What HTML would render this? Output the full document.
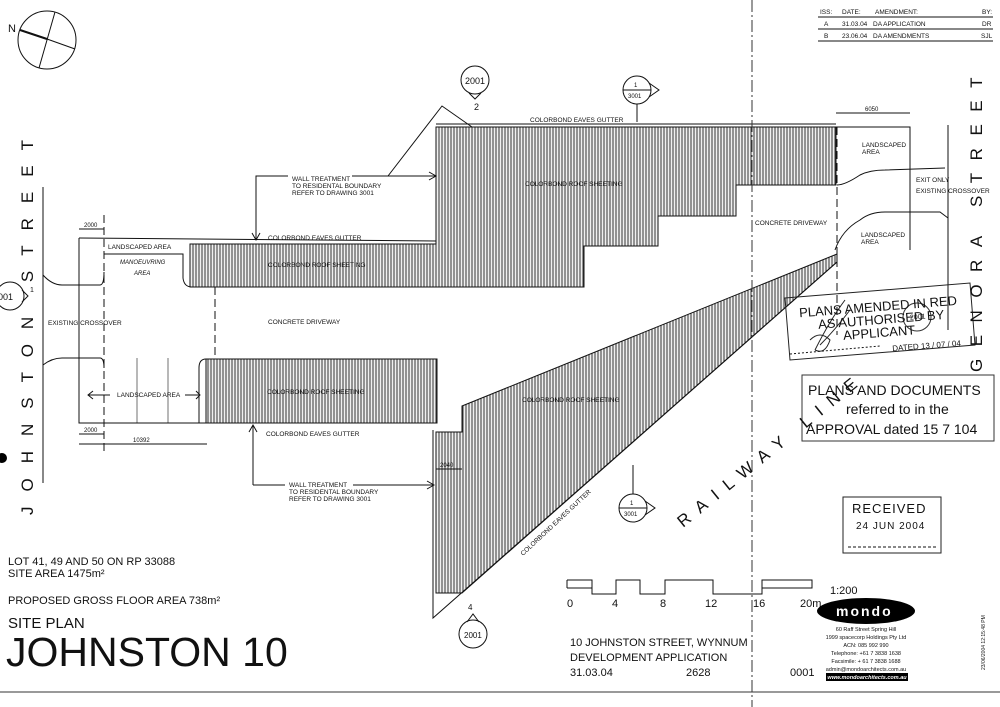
<!DOCTYPE html>
<html><head><meta charset="utf-8"><style>
html,body{margin:0;padding:0;background:#fff}
svg{display:block}
text{font-family:"Liberation Sans",Arial,sans-serif;fill:#111}
.s{font-size:6.5px}
</style></head><body>
<svg width="1000" height="707" viewBox="0 0 1000 707" xmlns="http://www.w3.org/2000/svg">
<defs>
<pattern id="h" width="3" height="10" patternUnits="userSpaceOnUse">
<rect width="3" height="10" fill="#f0f0f0"/>
<line x1="1" y1="0" x2="1" y2="10" stroke="#333" stroke-width="1"/>
</pattern>
</defs>
<rect width="1000" height="707" fill="#fff"/>
<g stroke="#111" fill="none" stroke-width="1">
<circle cx="47" cy="40" r="29"/>
<line x1="20" y1="30" x2="47" y2="39" stroke-width="2"/>
<line x1="47" y1="39" x2="75" y2="49"/>
<line x1="55" y1="12" x2="39" y2="68"/>
<polygon points="436,127 836,127 836,185 736,185 736,216 658,216 658,246 584,246 584,287 190,287 190,244 436,244" fill="url(#h)"/>
<rect x="206" y="359" width="231" height="64" fill="url(#h)"/>
<polygon points="436,432 462,432 462,406 837,254 837,262 462,593 436,593" fill="url(#h)"/>
<polyline points="433,430 433,618 837,262"/>
<line x1="436" y1="124" x2="836" y2="124"/>
<line x1="43" y1="187" x2="43" y2="483"/>
<path d="M43,275 Q52,285 62,285 L100,285 Q104,285 104,272"/>
<path d="M43,365 Q52,358 62,358 L100,358 Q104,358 104,368"/>
<polyline points="79,238 79,423 437,423"/>
<line x1="79" y1="238" x2="436" y2="241"/>
<path d="M104,254 L183,254 L183,278 Q184,287 192,287"/>
<path d="M206,359 Q199,359 199,368 L199,423"/>
<line x1="104" y1="215" x2="104" y2="455" stroke-dasharray="8,4"/>
<line x1="215" y1="287" x2="215" y2="359" stroke-dasharray="8,4"/>
<line x1="137" y1="358" x2="137" y2="423" stroke-width="0.6"/>
<line x1="168" y1="358" x2="168" y2="423" stroke-width="0.6"/>
<line x1="79" y1="229" x2="104" y2="229"/>
<line x1="79" y1="434" x2="104" y2="434"/>
<line x1="79" y1="444" x2="207" y2="444"/>
<line x1="88" y1="395" x2="110" y2="395"/><polyline points="93,391 88,395 93,399"/>
<line x1="185" y1="395" x2="200" y2="395"/><polyline points="196,391 200,395 196,399"/>
<polyline points="288,176 256,176 256,240"/><polyline points="252,233 256,240 260,233"/>
<line x1="352" y1="176" x2="436" y2="176"/><polyline points="429,172 436,176 429,180"/>
<polyline points="388,176 442,106 472,127"/>
<polyline points="253,485 253,425"/><polyline points="249,432 253,425 257,432"/>
<line x1="253" y1="485" x2="285" y2="485"/>
<line x1="353" y1="485" x2="434" y2="485"/><polyline points="427,481 434,485 427,489"/>
<circle cx="475" cy="80" r="14"/><polyline points="469,93 475,99 481,93"/>
<circle cx="637" cy="90" r="14"/><line x1="623" y1="90" x2="651" y2="90"/><polyline points="649,83 659,90 649,97"/>
<line x1="637" y1="104" x2="637" y2="122"/>
<circle cx="633" cy="508" r="14"/><line x1="619" y1="508" x2="647" y2="508"/><polyline points="645,501 655,508 645,515"/>
<line x1="633" y1="465" x2="633" y2="494"/>
<circle cx="473" cy="634" r="14"/><polyline points="467,622 473,614 479,622"/>
<circle cx="10" cy="296" r="14"/><polyline points="22,290 28,296 22,302"/>
<line x1="436" y1="469" x2="462" y2="469"/>
<line x1="752" y1="0" x2="752" y2="707" stroke-dasharray="12,3,2,3" stroke="#333"/>
<line x1="837" y1="127" x2="837" y2="335" stroke-dasharray="8,4"/>
<polyline points="836,127 910,127 910,250"/>
<line x1="836" y1="113" x2="910" y2="113"/>
<line x1="948" y1="125" x2="948" y2="330"/>
<path d="M837,185 Q845,185 860,175 Q870,170 885,170 L945,168"/>
<path d="M835,250 Q842,230 860,220 Q870,212 885,212 L940,212 L948,218"/>
<line x1="818" y1="17" x2="993" y2="17"/><line x1="818" y1="29" x2="993" y2="29"/><line x1="818" y1="41" x2="993" y2="41"/>
<polyline points="567,580 592,580 592,594 616,594 616,580 640,580 640,594 665,594 665,580 713,580 713,594 762,594 762,580 812,580 812,588 762,588"/>
<line x1="567" y1="580" x2="567" y2="588"/><line x1="567" y1="588" x2="592" y2="588"/>
<polygon points="785,298 970,283 975,345 790,360" stroke="#222"/>
<line x1="790" y1="354" x2="880" y2="346" stroke-dasharray="2,2"/>
<circle cx="917" cy="317" r="14" stroke="#333"/>
<rect x="802" y="375" width="192" height="66" stroke="#333"/>
<rect x="843" y="497" width="98" height="56" stroke="#222"/>
<line x1="848" y1="547" x2="936" y2="547" stroke-dasharray="3,2"/>
<line x1="0" y1="692" x2="1000" y2="692" stroke="#333"/>
</g>
<path d="M815,350 Q830,320 845,300 M820,345 Q835,330 850,310 M810,340 q10,-10 20,0 q-5,15 -15,10" stroke="#222" fill="none"/>

<text x="8" y="32" font-size="11">N</text>
<text class="s" x="530" y="122">COLORBOND EAVES GUTTER</text>
<text class="s" x="525" y="186">COLORBOND ROOF SHEETING</text>
<text class="s" x="755" y="225">CONCRETE DRIVEWAY</text>
<text class="s" x="268" y="240">COLORBOND EAVES GUTTER</text>
<text class="s" x="268" y="267">COLORBOND ROOF SHEETING</text>
<text class="s" x="108" y="249">LANDSCAPED AREA</text>
<text x="120" y="264" font-size="6" font-style="italic">MANOEUVRING</text>
<text x="134" y="275" font-size="6" font-style="italic">AREA</text>
<text class="s" x="48" y="325">EXISTING CROSSOVER</text>
<text class="s" x="268" y="324">CONCRETE DRIVEWAY</text>
<text class="s" x="267" y="394">COLORBOND ROOF SHEETING</text>
<text class="s" x="117" y="397">LANDSCAPED AREA</text>
<text class="s" x="266" y="436">COLORBOND EAVES GUTTER</text>
<text class="s" x="292" y="181">WALL TREATMENT</text>
<text class="s" x="292" y="188">TO RESIDENTAL BOUNDARY</text>
<text class="s" x="292" y="195">REFER TO DRAWING 3001</text>
<text class="s" x="289" y="487">WALL TREATMENT</text>
<text class="s" x="289" y="494">TO RESIDENTAL BOUNDARY</text>
<text class="s" x="289" y="501">REFER TO DRAWING 3001</text>
<text x="84" y="227" font-size="6">2000</text>
<text x="84" y="432" font-size="6">2000</text>
<text x="133" y="442" font-size="6">10392</text>
<text x="440" y="467" font-size="6">2040</text>
<text x="865" y="111" font-size="6">6050</text>
<text class="s" x="522" y="402">COLORBOND ROOF SHEETING</text>
<text class="s" transform="translate(523,556) rotate(-43)">COLORBOND EAVES GUTTER</text>
<text class="s" x="862" y="147">LANDSCAPED</text><text class="s" x="862" y="154">AREA</text>
<text class="s" x="861" y="237">LANDSCAPED</text><text class="s" x="861" y="244">AREA</text>
<text class="s" x="916" y="182">EXIT ONLY</text>
<text class="s" x="916" y="193">EXISTING CROSSOVER</text>
<text x="465" y="84" font-size="9">2001</text>
<text x="474" y="110" font-size="9">2</text>
<text x="634" y="87" font-size="6">1</text><text x="628" y="98" font-size="6">3001</text>
<text x="630" y="505" font-size="6">1</text><text x="624" y="516" font-size="6">3001</text>
<text x="464" y="638" font-size="8">2001</text>
<text x="468" y="610" font-size="8">4</text>
<text x="-2" y="300" font-size="9">001</text>
<text x="30" y="292" font-size="7">1</text>
<text font-size="17" letter-spacing="15" transform="translate(33,515) rotate(-90)">JOHNSTON STREET</text>
<text font-size="17" letter-spacing="12.5" transform="translate(982,372) rotate(-90)">GENORA STREET</text>
<text font-size="17" letter-spacing="10" transform="translate(683,528) rotate(-39)">RAILWAY LINE</text>
<g font-size="6.5">
<text x="820" y="14">ISS:</text><text x="842" y="14">DATE:</text><text x="875" y="14">AMENDMENT:</text><text x="982" y="14">BY:</text>
<text x="824" y="26">A</text><text x="842" y="26">31.03.04</text><text x="873" y="26">DA APPLICATION</text><text x="982" y="26">DR</text>
<text x="824" y="38">B</text><text x="842" y="38">23.06.04</text><text x="873" y="38">DA AMENDMENTS</text><text x="981" y="38">SJL</text>
</g>
<g font-size="11">
<text x="567" y="607">0</text><text x="612" y="607">4</text><text x="660" y="607">8</text><text x="705" y="607">12</text><text x="753" y="607">16</text><text x="800" y="607">20m</text>
<text x="830" y="594">1:200</text>
</g>
<g transform="rotate(-4.5 880 320)">
<text x="800" y="311" font-size="13">PLANS AMENDED IN RED</text>
<text x="818" y="324" font-size="13">AS AUTHORISED BY</text>
<text x="842" y="337" font-size="13">APPLICANT</text>
<text x="890" y="352" font-size="8">DATED 13 / 07 / 04</text>
<text x="910" y="322" font-size="7">2001</text>
</g>
<text x="808" y="395" font-size="14" fill="#444">PLANS AND DOCUMENTS</text>
<text x="846" y="414" font-size="14">referred to in the</text>
<text x="806" y="434" font-size="14">APPROVAL dated 15 7 104</text>
<text x="852" y="513" font-size="13" letter-spacing="1">RECEIVED</text>
<text x="856" y="529" font-size="10" letter-spacing="1">24 JUN 2004</text>
<ellipse cx="866" cy="611" rx="49" ry="13" fill="#000"/>
<text x="836" y="616" font-size="14" font-weight="bold" style="fill:#fff" letter-spacing="2">mondo</text>
<g font-size="5.5" text-anchor="middle">
<text x="866" y="631">60 Raff Street Spring Hill</text>
<text x="866" y="639">1999 spacecorp Holdings Pty Ltd</text>
<text x="866" y="647">ACN: 085 992 990</text>
<text x="866" y="655">Telephone: +61 7 3838 1638</text>
<text x="866" y="663">Facsimile: + 61 7 3838 1688</text>
<text x="866" y="671">admin@mondoarchitects.com.au</text>
</g>
<rect x="826" y="673" width="82" height="8" fill="#000"/>
<text x="867" y="679" font-size="5.5" text-anchor="middle" style="fill:#fff" font-style="italic" font-weight="bold">www.mondoarchitects.com.au</text>
<text font-size="5" transform="translate(985,670) rotate(-90)">23/06/2004 12:15:48 PM</text>
<text x="8" y="565" font-size="11">LOT 41, 49 AND 50 ON RP 33088</text>
<text x="8" y="577" font-size="11">SITE AREA 1475m²</text>
<text x="8" y="604" font-size="11">PROPOSED GROSS FLOOR AREA 738m²</text>
<text x="8" y="628" font-size="15">SITE PLAN</text>
<text x="6" y="666" font-size="41">JOHNSTON 10</text>
<text x="570" y="646" font-size="11">10 JOHNSTON STREET, WYNNUM</text>
<text x="570" y="661" font-size="11">DEVELOPMENT APPLICATION</text>
<text x="570" y="676" font-size="11">31.03.04</text>
<text x="686" y="676" font-size="11">2628</text>
<text x="790" y="676" font-size="11">0001</text>
<circle cx="2" cy="458" r="5" fill="#000"/>
</svg>
</body></html>
